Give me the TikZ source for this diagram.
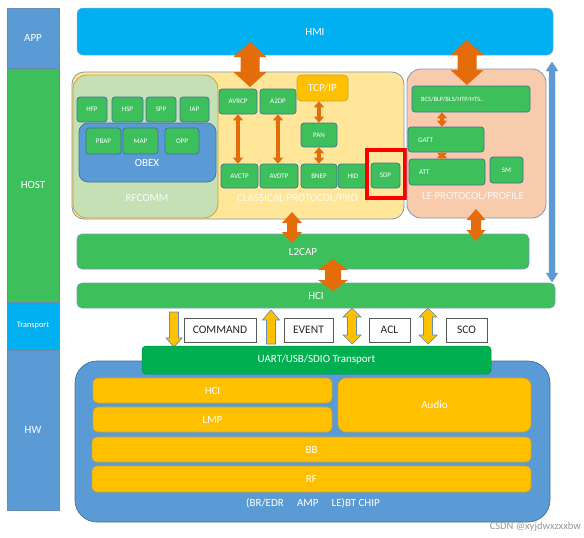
\documentclass[tikz,border=0pt]{standalone}
\usepackage{fontspec}
\setmainfont{Carlito}
\usetikzlibrary{arrows.meta,calc}
\definecolor{cyanA}{HTML}{00B0F0}
\definecolor{blueA}{HTML}{5B9BD5}
\definecolor{greenA}{HTML}{3DC05C}
\definecolor{greenB}{HTML}{00B050}
\definecolor{goldA}{HTML}{FFC000}
\definecolor{orangeA}{HTML}{E46C0A}
\definecolor{classy}{HTML}{FFE699}
\definecolor{rfg}{HTML}{C5E0B4}
\definecolor{lepink}{HTML}{F8CBAD}
\definecolor{edgeA}{HTML}{41719C}
\definecolor{edgeB}{HTML}{8497B0}
\definecolor{goldedge}{HTML}{C9A43A}
\newcommand{\myfs}[1]{\fontsize{#1}{#1}\selectfont}
% style, x1, y1, x2, y2, name, text
\newcommand{\bx}[7]{\node[#1, minimum width={(#4-#2)*1pt}, minimum height={(#5-#3)*1pt}] (#6) at ({(#2+#4)/2},{(#3+#5)/2}) {#7};}
% style, x, ytop, ybot, shaft half, head half, head length
\newcommand{\dblarr}[7]{\draw[#1] ({#2-#5},{#3+#7}) -- ({#2-#6},{#3+#7}) -- (#2,#3) -- ({#2+#6},{#3+#7}) -- ({#2+#5},{#3+#7}) -- ({#2+#5},{#4-#7}) -- ({#2+#6},{#4-#7}) -- (#2,#4) -- ({#2-#6},{#4-#7}) -- ({#2-#5},{#4-#7}) -- cycle;}
\newcommand{\downarr}[7]{\draw[#1] ({#2-#5},#3) -- ({#2+#5},#3) -- ({#2+#5},{#4-#7}) -- ({#2+#6},{#4-#7}) -- (#2,#4) -- ({#2-#6},{#4-#7}) -- ({#2-#5},{#4-#7}) -- cycle;}
\newcommand{\uparr}[7]{\draw[#1] ({#2-#5},#4) -- ({#2+#5},#4) -- ({#2+#5},{#3+#7}) -- ({#2+#6},{#3+#7}) -- (#2,#3) -- ({#2-#6},{#3+#7}) -- ({#2-#5},{#3+#7}) -- cycle;}
\tikzset{
  side/.style={draw=edgeA!80, line width=0.5pt, inner sep=0pt, text=white, font=\myfs{11}},
  sb/.style={fill=greenA, draw=edgeA, line width=0.7pt, rounded corners=3pt, inner sep=0pt, text=white, font=\myfs{7}},
  wide/.style={fill=greenA, draw=edgeA!70, line width=0.6pt, rounded corners=5pt, inner sep=0pt, text=white, font=\myfs{11}},
  yb/.style={fill=goldA, draw=goldedge, line width=0.6pt, rounded corners=5pt, inner sep=0pt, text=white, font=\myfs{11}},
  lab/.style={draw=black!65, fill=white, line width=0.6pt, inner sep=0pt, text=black!85, font=\myfs{11.5}},
  txt/.style={inner sep=0pt, text=white, font=\myfs{11}},
  bigor/.style={fill=orangeA, draw=none},
  yarr/.style={fill=goldA, draw=edgeA!80, line width=0.7pt},
  smor/.style={draw=orangeA, line width=3.5pt, {Triangle[width=10pt,length=6pt]}-{Triangle[width=10pt,length=6pt]}},
}
\begin{document}
\begin{tikzpicture}[x=1pt,y=-1pt]
\useasboundingbox (0,0) rectangle (584,538);
\fill[white] (0,0) rectangle (584,538);
% left column
\bx{side, fill=blueA}{7}{8}{59}{68}{app}{APP}
\bx{side, fill=greenA}{7}{68}{59}{302}{host}{HOST}
\bx{side, fill=cyanA, font=\myfs{8.3}}{7}{302}{59}{350}{transp}{Transport}
\bx{side, fill=blueA}{7}{350}{59}{510}{hw}{HW}
% HMI
\bx{fill=cyanA, draw=edgeA!60, line width=0.5pt, rounded corners=6pt, inner sep=0pt, text=white, font=\myfs{11}}{77}{8}{553}{55}{hmi}{HMI}
% classical
\bx{fill=classy, draw=edgeB, line width=0.8pt, rounded corners=12pt, inner sep=0pt}{72}{72}{404}{219}{classical}{}
\bx{fill=rfg, draw=goldedge, line width=0.8pt, rounded corners=14pt, inner sep=0pt}{73}{75}{218}{218}{rfcommbox}{}
\bx{sb}{77}{97}{107}{122}{hfp}{HFP}
\bx{sb}{112}{97}{143}{122}{hsp}{HSP}
\bx{sb}{146}{97}{176}{122}{spp}{SPP}
\bx{sb}{180}{97}{209}{122}{iap}{IAP}
\bx{fill=blueA, draw=edgeA, line width=0.7pt, rounded corners=9pt, inner sep=0pt}{79}{123}{216}{182}{obexbox}{}
\bx{sb}{86}{128}{121}{154}{pbap}{PBAP}
\bx{sb}{123}{128}{158}{154}{map}{MAP}
\bx{sb}{165}{128}{199}{154}{opp}{OPP}
\node[txt] (obex) at (147,163) {OBEX};
\node[txt, text=white!90!rfg] (rfcomm) at (147,198) {RFCOMM};
\bx{sb}{219}{89}{257}{114}{avrcp}{AVRCP}
\bx{sb}{260}{89}{296}{114}{a2dp}{A2DP}
\bx{fill=goldA, draw=goldedge, line width=0.6pt, rounded corners=4pt, inner sep=0pt, text=white, font=\myfs{11}}{297}{75}{348}{101}{tcp}{TCP/IP}
\bx{sb}{301}{123}{337}{147}{pan}{PAN}
\bx{sb}{221}{164}{258}{188}{avctp}{AVCTP}
\bx{sb}{260}{164}{298}{188}{avdtp}{AVDTP}
\bx{sb}{301}{164}{337}{188}{bnep}{BNEP}
\bx{sb}{338}{164}{368}{188}{hid}{HID}
\bx{sb}{371}{163}{400}{188}{sdp}{SDP}
\node[txt, anchor=west, text=white!85!classy] (classtxt) at (237,197.5) {CLASSICAL PROTOCOL/PRO};
\bx{draw=red, line width=4.5pt, inner sep=0pt}{367}{150}{405}{198}{redbox}{}
% LE
\bx{fill=lepink, draw=edgeB, line width=0.8pt, rounded corners=14pt, inner sep=0pt}{407}{69}{546}{218}{le}{}
\bx{sb}{412}{86}{530}{112}{bcs}{}
\node[txt, anchor=west, font=\myfs{6.5}] (bcstxt) at (421,99) {BCS/BLP/BLS/HTP/HTS..};
\bx{sb}{408}{127}{484}{152}{gatt}{}
\node[txt, anchor=west, font=\myfs{7}] (gatttxt) at (418,140) {GATT};
\bx{sb}{409}{159}{485}{185}{att}{}
\node[txt, anchor=west, font=\myfs{7}] (atttxt) at (419,172) {ATT};
\bx{sb}{490}{157}{523}{183}{sm}{SM}
\node[txt, text=white!85!lepink] (letxt) at (473,196) {LE PROTOCOL/PROFILE};
% small orange arrows
\draw[smor] (avrcp.south) -- (avrcp.south |- avctp.north);
\draw[smor] (a2dp.south) -- (a2dp.south |- avdtp.north);
\draw[smor] (pan.north |- tcp.south) -- (pan.north);
\draw[smor] (pan.south) -- (pan.south |- bnep.north);
\draw[smor] ([xshift=-4pt]gatt.north |- bcs.south) -- ([xshift=-4pt]gatt.north);
\draw[smor] ([xshift=-4pt]gatt.south) -- ([xshift=-4pt]gatt.south |- att.north);
% L2CAP / HCI
\bx{wide}{77}{234}{529}{269}{l2cap}{L2CAP}
\bx{wide}{77}{283}{555}{308}{hci}{HCI}
% big orange arrows
\dblarr{bigor}{250}{42}{87}{9.5}{16.5}{15}
\dblarr{bigor}{467}{40}{85}{9.5}{16.5}{15}
\dblarr{bigor}{292}{212}{243}{5}{10}{11}
\dblarr{bigor}{476}{209}{241}{5}{9.5}{11}
\dblarr{bigor}{333}{259}{291}{8}{15}{11}
% blue arrow
\dblarr{fill=blueA, draw=edgeA!70, line width=0.4pt}{552}{62}{282}{3}{6}{9}
% HCI labels and arrows
\bx{lab}{184}{318}{256}{342}{command}{COMMAND}
\bx{lab}{284}{318}{333}{342}{event}{EVENT}
\bx{lab}{369}{318}{410}{342}{acl}{ACL}
\bx{lab}{446}{318}{487}{342}{sco}{SCO}
\downarr{yarr}{174}{312}{347}{4.5}{8}{9}
\uparr{yarr}{271}{310}{344}{4.5}{8.5}{10}
\dblarr{yarr}{352}{308}{344}{4.5}{9}{9}
\dblarr{yarr}{428}{308}{344}{4.5}{9}{9}
% HW
\bx{fill=blueA, draw=edgeA, line width=0.7pt, rounded corners=22pt, inner sep=0pt}{75}{361}{550}{522}{chip}{}
\bx{fill=greenB, draw=greenB!80!black, line width=0.5pt, rounded corners=4pt, inner sep=0pt, text=white, font=\myfs{11}}{142}{346}{491}{374}{uart}{UART/USB/SDIO Transport}
\bx{yb}{93}{378}{332}{403}{hcihw}{HCI}
\bx{yb}{93}{407}{332}{432}{lmp}{LMP}
\bx{yb, rounded corners=8pt}{338}{378}{531}{432}{audio}{Audio}
\bx{yb}{92}{437}{531}{462}{bb}{BB}
\bx{yb}{92}{466}{531}{492}{rf}{RF}
\node[txt] (chiptxt) at (313,503) {(BR/EDR\hspace{1.2em}AMP\hspace{1.2em}LE)BT CHIP};
\node[inner sep=0pt, anchor=east, text=black!40, font=\myfs{10.5}] (wm) at (581,527) {CSDN @xyjdwxzxxbw};
\end{tikzpicture}
\end{document}
